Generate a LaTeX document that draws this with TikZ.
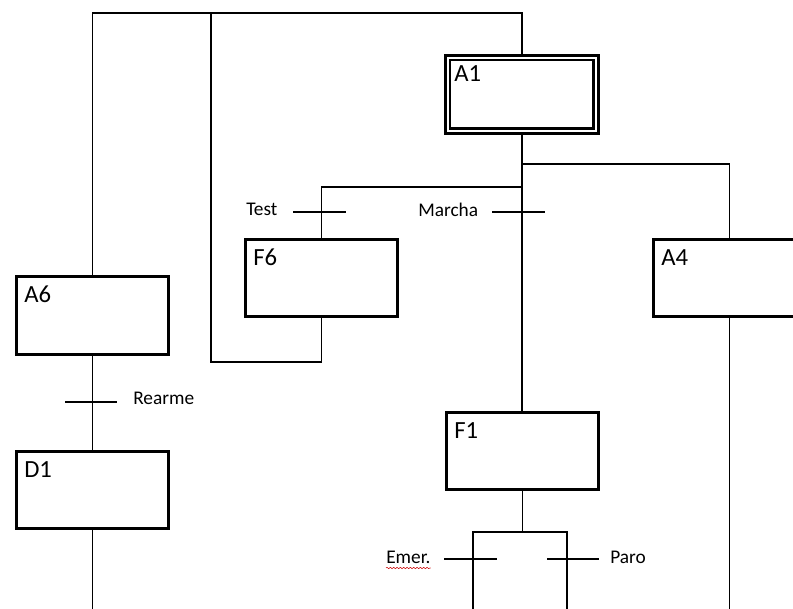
\documentclass[tikz,border=0pt]{standalone}
\usepackage{fontspec}
\setmainfont{Carlito}
\usetikzlibrary{decorations.pathmorphing}
\tikzset{
  stepbox/.style={draw, line width=1.9pt, minimum width=114pt, minimum height=58pt, inner sep=0pt, anchor=north west},
  boxlabel/.style={anchor=base west, inner sep=0pt, font=\fontsize{18.5}{20}\selectfont},
  translabel/.style={anchor=base west, inner sep=0pt, font=\fontsize{14.5}{16}\selectfont},
  link/.style={line width=1.1pt},
  bar/.style={line width=1.1pt}
}
\begin{document}
\begin{tikzpicture}[x=0.75pt,y=-0.75pt]
\path[use as bounding box, clip] (0,0) rectangle (793,609);
\fill[white] (0,0) rectangle (793,609);

% boxes
\node[stepbox, minimum width=114.75pt, minimum height=58.5pt] (A1) at (444,54) {};
\draw[line width=1.9pt] ([shift={(6,6)}]A1.north west) rectangle ([shift={(-6,-6)}]A1.south east);
\node[stepbox] (F6) at (244,238) {};
\node[stepbox] (A4) at (652,238) {};
\node[stepbox, minimum height=58.5pt] (A6) at (15,275) {};
\node[stepbox] (D1) at (15,450) {};
\node[stepbox] (F1) at (445,411) {};

% box labels
\node[boxlabel] (lA1) at (454,82) {A1};
\node[boxlabel] (lF6) at (253,266) {F6};
\node[boxlabel] (lA4) at (661,266) {A4};
\node[boxlabel] (lA6) at (24,303) {A6};
\node[boxlabel] (lD1) at (24,478) {D1};
\node[boxlabel] (lF1) at (454,439) {F1};

% helper coordinates
\coordinate (top) at (0,13);
\coordinate (loopc) at (211,362);
\coordinate (j1) at (0,164);
\coordinate (j2) at (0,187);
\coordinate (j3) at (0,532);
\coordinate (bot) at (0,615);
\coordinate (bl) at (473,532);
\coordinate (br) at (567,532);

% connectors
\draw[link] (A6.north) -- (A6.north |- top) -| (A1.north);
\draw[link] (F6.south) |- (loopc) -- (loopc |- top);
\draw[link] (A1.south) -- (A1.south |- j1) -| (A4.north);
\draw[link] (A1.south |- j2) -| (F6.north);
\draw[link] (A1.south) -- (A1.south |- F1.north);
\draw[link] (A4.south) -- (A4.south |- bot);
\draw[link] (A6.south) -- (D1.north);
\draw[link] (D1.south) -- (D1.south |- bot);
\draw[link] (F1.south) -- (F1.south |- j3);
\draw[link] (bl |- bot) -- (bl) -- (br) -- (br |- bot);

% transitions
\coordinate (tTest) at (320,212);
\coordinate (tMarcha) at (520,212);
\coordinate (tRearme) at (91,402);
\coordinate (tEmer) at (473,559);
\coordinate (tParo) at (567,559);
\draw[bar] (tTest) ++(-27,0) -- ++(53,0);
\draw[bar] (tMarcha) ++(-28,0) -- ++(53,0);
\draw[bar] (tRearme) ++(-26,0) -- ++(52,0);
\draw[bar] (tEmer) ++(-29,0) -- ++(53,0);
\draw[bar] (tParo) ++(-20,0) -- ++(52,0);

% transition labels
\node[translabel] (lTest) at (246,216) {Test};
\node[translabel] (lMarcha) at (418,217) {Marcha};
\node[translabel] (lRearme) at (133,405) {Rearme};
\node[translabel] (lEmer) at (386,564) {Emer.};
\node[translabel] (lParo) at (610,563) {Paro};
\draw[red!80!black, line width=0.4pt, decorate, decoration={snake, amplitude=0.5pt, segment length=2.5pt}] ([yshift=-3pt]lEmer.base west) -- ([yshift=-3pt]lEmer.base east);
\end{tikzpicture}
\end{document}
